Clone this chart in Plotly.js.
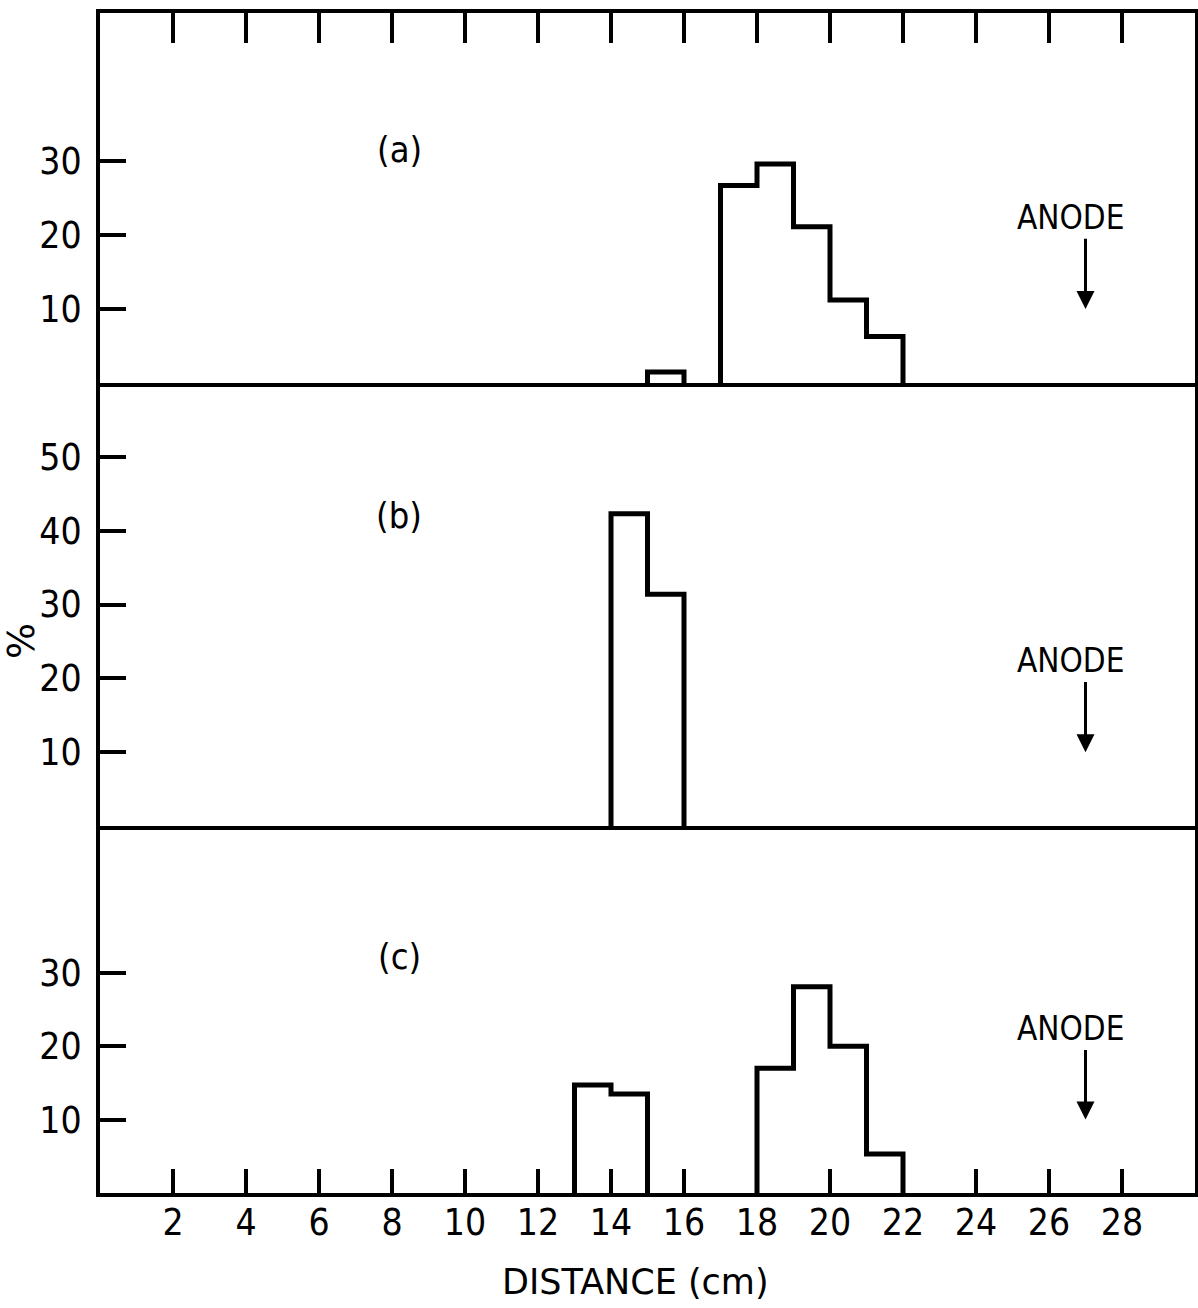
<!DOCTYPE html>
<html>
<head>
<meta charset="utf-8">
<script src="https://cdn.plot.ly/plotly-3.0.1.min.js"></script>
<style>html,body{margin:0;padding:0;background:#fff;}#chart{width:1198px;height:1308px;}</style>
</head>
<body>
<div id="chart"></div>
<script>
// Data (bin left edges, bin width 1 cm; heights in %)
const binsA = [15, 17, 18, 19, 20, 21];
const valsA = [1.5, 26.7, 29.6, 21.1, 11.2, 6.3];
const binsB = [14, 15];
const valsB = [42.3, 31.4];
const binsC = [13, 14, 18, 19, 20, 21];
const valsC = [14.7, 13.5, 17.0, 28.1, 20.0, 5.3];
const binWidth = 1;

const xTicks = [2, 4, 6, 8, 10, 12, 14, 16, 18, 20, 22, 24, 26, 28];
const yTicksA = [10, 20, 30];
const yTicksB = [10, 20, 30, 40, 50];
const yTicksC = [10, 20, 30];
const panelLabels = ['(a)', '(b)', '(c)'];
const markerText = 'ANODE';
const anodeX = 27;
const xTitle = 'DISTANCE (cm)';
const yTitle = '%';

// build a stepped outline from bins
function outline(bins, vals) {
  const xs = [], ys = [];
  for (let i = 0; i < bins.length; i++) {
    const l = bins[i], r = bins[i] + binWidth;
    const startGroup = i === 0 || bins[i - 1] + binWidth !== l;
    if (startGroup) {
      if (i > 0) { xs.push(null); ys.push(null); }
      xs.push(l); ys.push(0);
    }
    xs.push(l); ys.push(vals[i]);
    xs.push(r); ys.push(vals[i]);
    const endGroup = i === bins.length - 1 || bins[i + 1] !== r;
    if (endGroup) { xs.push(r); ys.push(0); }
  }
  return {x: xs, y: ys};
}

const FONT = '"DejaVu Sans Condensed", "DejaVu Sans", sans-serif';
const FONT_W = '"DejaVu Sans", sans-serif';
const lineStyle = {color: '#000', width: 5};

const oa = outline(binsA, valsA), ob = outline(binsB, valsB), oc = outline(binsC, valsC);
const traces = [
  {x: oa.x, y: oa.y, xaxis: 'x3', yaxis: 'y3', mode: 'lines', line: lineStyle, connectgaps: false, hoverinfo: 'skip'},
  {x: ob.x, y: ob.y, xaxis: 'x2', yaxis: 'y2', mode: 'lines', line: lineStyle, connectgaps: false, hoverinfo: 'skip'},
  {x: oc.x, y: oc.y, xaxis: 'x', yaxis: 'y', mode: 'lines', line: lineStyle, connectgaps: false, hoverinfo: 'skip'}
];

const H = 1180;
const LW = 4;
const dC = [0, 363 / H], dB = [367 / H, 806 / H], dA = [810 / H, 1];

const axLine = {showline: true, linecolor: '#000', linewidth: LW, mirror: true, showgrid: false, zeroline: false, fixedrange: true};
const tickFont = {family: FONT, size: 37, color: '#000'};

function yAx(domain, range, tv) {
  return Object.assign({}, axLine, {
    domain: domain, range: range, tickvals: tv, ticktext: tv.map(String),
    ticks: 'inside', ticklen: 26, tickwidth: 4, tickcolor: '#000',
    tickfont: tickFont, ticklabelstandoff: 7
  });
}

const layout = {
  width: 1198, height: 1308,
  margin: {l: 100, r: 3, t: 13, b: 115},
  paper_bgcolor: '#fff', plot_bgcolor: '#fff',
  showlegend: false,
  font: {family: FONT, color: '#000'},
  xaxis: Object.assign({}, axLine, {
    anchor: 'y', range: [0, 30], tickvals: xTicks, ticktext: xTicks.map(String),
    ticks: 'inside', ticklen: 24, tickwidth: 4, tickcolor: '#000', tickfont: tickFont,
    ticklabelstandoff: -6
  }),
  xaxis2: Object.assign({}, axLine, {anchor: 'y2', range: [0, 30], showticklabels: false, ticks: ''}),
  xaxis3: Object.assign({}, axLine, {
    anchor: 'y3', range: [0, 30], side: 'top', tickvals: xTicks, showticklabels: false,
    ticks: 'inside', ticklen: 30, tickwidth: 4, tickcolor: '#000'
  }),
  yaxis: yAx(dC, [0, 50 * 363 / 367], yTicksC),
  yaxis2: yAx(dB, [0, 60 * 439 / 443], yTicksB),
  yaxis3: yAx(dA, [0, 50], yTicksA),
  annotations: []
};

const panels = [
  {xr: 'x3', yr: 'y3', label: panelLabels[0], ly: 31.5},
  {xr: 'x2', yr: 'y2', label: panelLabels[1], ly: 42},
  {xr: 'x', yr: 'y', label: panelLabels[2], ly: 32.2}
];
panels.forEach(p => {
  layout.annotations.push({xref: p.xr, yref: p.yr, x: 8.2, y: p.ly, text: p.label, showarrow: false,
    font: {family: FONT, size: 36, color: '#000'}});
  layout.annotations.push({xref: p.xr, yref: p.yr, x: anodeX - 0.4, y: 22.4, text: markerText, showarrow: false,
    font: {family: FONT, size: 33, color: '#000'}});
  layout.annotations.push({xref: p.xr, yref: p.yr, axref: p.xr, ayref: p.yr, x: anodeX, y: 10,
    ax: anodeX, ay: 19.7, text: '', showarrow: true, arrowhead: 2, arrowsize: 1.2, arrowwidth: 3, arrowcolor: '#000'});
});
// y-axis label
layout.annotations.push({xref: 'paper', yref: 'paper', x: (21 - 100) / 1095, y: (1193 - 641) / H,
  xanchor: 'center', yanchor: 'middle',
  text: yTitle, textangle: -90, showarrow: false, font: {family: FONT_W, size: 38, color: '#000'}});
// x-axis label
layout.annotations.push({xref: 'paper', yref: 'paper', x: (635 - 100) / 1095, y: (1193 - 1282) / H,
  xanchor: 'center', yanchor: 'middle',
  text: xTitle, showarrow: false, font: {family: FONT_W, size: 35, color: '#000'}});

Plotly.newPlot('chart', traces, layout, {displayModeBar: false, staticPlot: true});
</script>
</body>
</html>
